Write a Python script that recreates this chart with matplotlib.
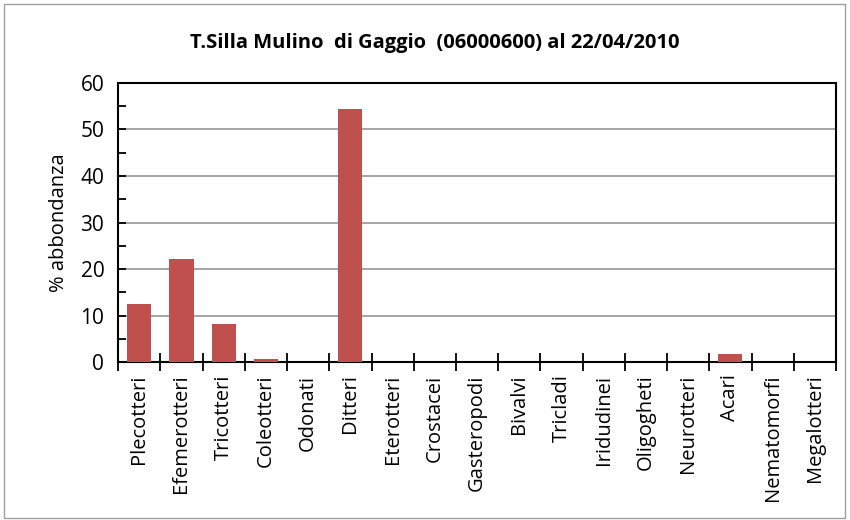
import numpy as np
import matplotlib.pyplot as plt
from matplotlib.patches import Rectangle
from matplotlib.ticker import MultipleLocator

# percent abundance of macroinvertebrate groups, one sampling date

CATEGORIES = ["Plecotteri", "Efemerotteri", "Tricotteri", "Coleotteri", "Odonati",
              "Ditteri", "Eterotteri", "Crostacei", "Gasteropodi", "Bivalvi",
              "Tricladi", "Iridudinei", "Oligogheti", "Neurotteri", "Acari",
              "Nematomorfi", "Megalotteri"]
ABUNDANCE = [12.5, 22.1, 8.2, 0.6, 0.1,
             54.4, 0.0, 0.0, 0.0, 0.0,
             0.0, 0.0, 0.1, 0.0, 1.7,
             0.0, 0.0]
TITLE = "T.Silla Mulino  di Gaggio  (06000600) al 22/04/2010"
YLABEL = "% abbondanza"

plt.rcParams["font.family"] = ["Open Sans", "DejaVu Sans"]

fig = plt.figure(figsize=(8.5, 5.2), dpi=100)
fig.patches.append(Rectangle((0.005, 0.004), 0.989, 0.988, transform=fig.transFigure,
                             fill=False, edgecolor="#a0a0a0", linewidth=1.0))
ax = fig.add_axes([0.139, 0.3038, 0.8445, 0.5366])

x = np.arange(len(CATEGORIES))
ax.bar(x, ABUNDANCE, width=0.57, color="#c0504d", zorder=3)

ax.set_xlim(-0.5, len(CATEGORIES) - 0.5)
ax.set_ylim(0, 60)
ax.yaxis.set_major_locator(MultipleLocator(10))
ax.yaxis.set_minor_locator(MultipleLocator(5))
ax.grid(axis="y", which="major", color="#8c8c8c", linewidth=1.1, zorder=0)

ax.set_xticks(x)
ax.set_xticklabels(CATEGORIES, rotation=90, fontsize=14.5)
ax.set_xticks(np.arange(len(CATEGORIES) + 1) - 0.5, minor=True)
ax.tick_params(axis="x", which="major", length=0, pad=9)
ax.tick_params(axis="x", which="minor", direction="inout", length=13, width=1.3)
ax.tick_params(axis="y", which="both", direction="in", length=6, width=1.3,
               labelsize=15, pad=10)

for side in ["left", "bottom", "right", "top"]:
    ax.spines[side].set_linewidth(1.5)

ax.set_ylabel(YLABEL, fontsize=14.5, labelpad=8)
fig.text(0.512, 0.918, TITLE, ha="center", va="center", fontsize=14.5, fontweight="bold")

fig.savefig("out.png", dpi=100, facecolor="white")
